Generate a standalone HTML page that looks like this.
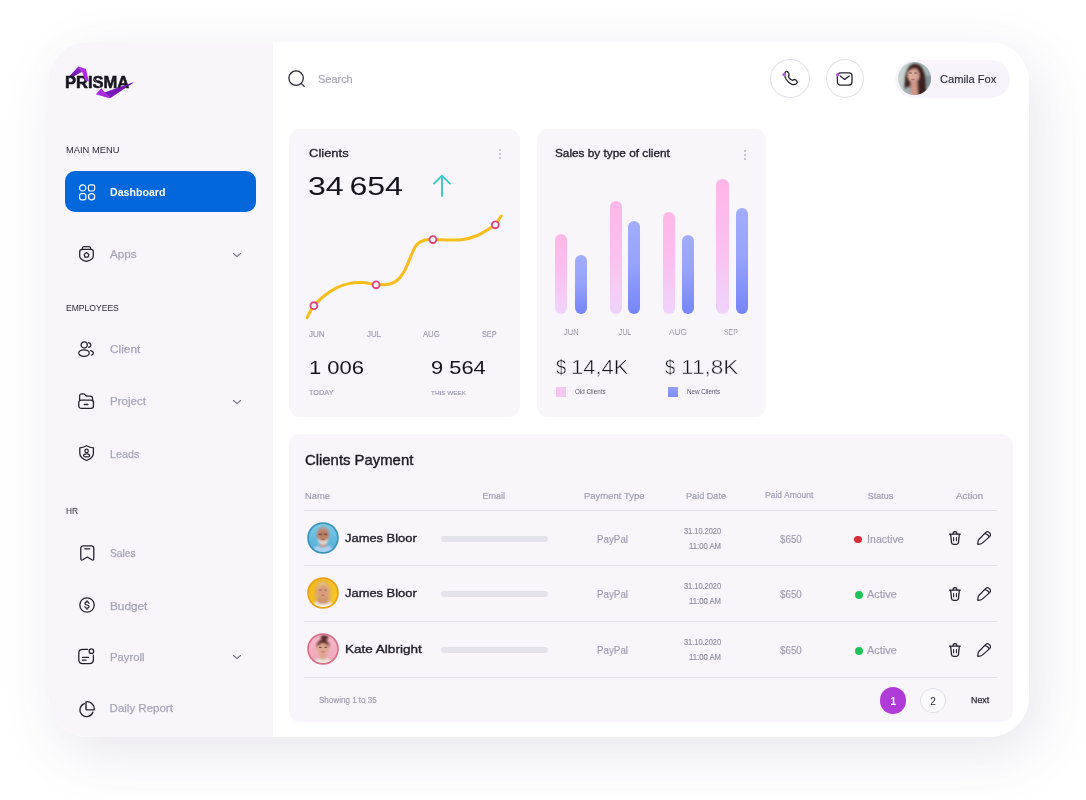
<!DOCTYPE html>
<html lang="en">
<head>
<meta charset="utf-8">
<title>Prisma Dashboard</title>
<style>
html,body{margin:0;padding:0;background:#fff;}
body{width:1086px;height:800px;position:relative;overflow:hidden;font-family:"Liberation Sans",sans-serif;color:#2b2a36;}
.a,.t,.b{position:absolute;}
.t{white-space:nowrap;line-height:1;transform-origin:0 50%;margin:0;padding:0;font-weight:400;}
svg.a{overflow:visible;}
.shadow{position:absolute;left:48px;top:42px;width:980.6px;height:695px;border-radius:40px;background:#fff;
  box-shadow:10px 16px 56px rgba(85,65,125,0.135);}
.shell{position:absolute;left:48px;top:42px;width:980.6px;height:695px;border-radius:40px;background:#fff;overflow:hidden;}
.page{position:absolute;left:-48px;top:-42px;width:1086px;height:800px;}
.side{position:absolute;left:48px;top:42px;width:225.3px;height:695px;background:#f8f6fb;}
.card{position:absolute;background:#f8f6fb;border-radius:11px;}
.ic{fill:none;stroke:#25242e;stroke-width:1.3;stroke-linecap:round;stroke-linejoin:round;}
.logo{-webkit-text-stroke:0.55px #17151f;}
.hr{position:absolute;height:1px;background:#dfdde6;left:304px;width:692.5px;}
ul,li,nav,header,main,section,aside,footer,h1,h2,h3,p{margin:0;padding:0;list-style:none;}
</style>
</head>
<body>
<div class="shadow"></div>
<div class="shell"><div class="page">

<aside class="side"></aside>
<aside>
<svg class="a" style="left:60px;top:60px" width="80" height="44" viewBox="0 0 80 44" >
<defs>
<linearGradient id="lg1" x1="0" y1="1" x2="1" y2="0"><stop offset="0" stop-color="#5f14a0"/><stop offset="1" stop-color="#9a22d6"/></linearGradient>
<linearGradient id="lg2" x1="0" y1="0" x2="1" y2="0"><stop offset="0" stop-color="#8a1fcb"/><stop offset="1" stop-color="#6212a6"/></linearGradient>
</defs>
<polygon points="8.7,16.9 18.4,6.5 22.1,11.8 12.7,17.1" fill="url(#lg1)"/>
<polygon points="36.1,34.25 41.25,28.4 50.1,38.2" fill="#a92be2"/>
<polygon points="44.9,32.4 74.4,22.1 50.1,38.2 41.25,28.4" fill="url(#lg2)"/>
</svg>
<h1 class="t logo" style="left:65.30px;top:75px;font-size:15.6px;color:#17151f;font-weight:700;transform:scaleX(1.0582);">PRISMA</h1>
<svg class="a" style="left:60px;top:60px" width="80" height="44" viewBox="0 0 80 44" ><polygon points="18.4,6.5 26.0,9.0 28.8,21.6 25.2,20.4 22.1,11.8" fill="#b32ae8"/>
<polygon points="36.1,34.25 41.25,28.4 44.9,32.4 50.1,38.2" fill="#a92be2"/>
<polygon points="44.9,32.4 74.4,22.1 66,26.6 47.2,34.4" fill="#7418b8"/>
<line x1="33.6" y1="18.2" x2="40.2" y2="27.6" stroke="#f8f6fb" stroke-width="0.45"/></svg>
<nav>
<h3 class="t" style="left:65.70px;top:145px;font-size:9.5px;color:#2b2a36;transform:scaleX(0.9823);">MAIN MENU</h3>
<div class="a" style="left:65.4px;top:171.4px;width:191.0px;height:41.0px;background:#0367dc;border-radius:10px;"></div>
<svg class="a" style="left:78.6px;top:183.8px" width="16.4" height="16.4" viewBox="0 0 16.4 16.4" ><g fill="none" stroke="#fff" stroke-width="1.2">
<circle cx="3.7" cy="3.9" r="3.1"/><rect x="9.4" y="0.8" width="6.3" height="6.2" rx="2"/>
<rect x="0.6" y="9.6" width="6.3" height="6.2" rx="2"/><circle cx="12.6" cy="12.7" r="3.1"/></g></svg>
<span class="t" style="left:109.80px;top:187px;font-size:11.5px;color:#ffffff;font-weight:700;transform:scaleX(0.9223);">Dashboard</span>
<svg class="a" style="left:79.3px;top:246.2px" width="15" height="16.2" viewBox="0 0 15 16.2" ><g class="ic">
<path d="M3.3,3.4 V2.6 Q3.3,0.7 5.2,0.7 H9.8 Q11.7,0.7 11.7,2.6 V3.4"/>
<path d="M3.0,3.4 H12.0 Q14.3,3.4 14.3,5.7 V10.4 Q14.3,13.2 7.5,15.5 Q0.7,13.2 0.7,10.4 V5.7 Q0.7,3.4 3.0,3.4 Z"/>
<path d="M7.5,6.6 L9.9,8.4 L9.0,11.2 H6.0 L5.1,8.4 Z" stroke-width="1.25"/></g></svg>
<span class="t" style="left:109.60px;top:249px;font-size:11.5px;color:#a7a5b9;-webkit-text-stroke:0.25px #a7a5b9;transform:scaleX(1.0148);">Apps</span>
<svg class="a" style="left:232.6px;top:252.9px" width="8.0" height="4.4" viewBox="0 0 8.0 4.4" ><path d="M0.5,0.5 L4.0,3.7 L7.5,0.5" fill="none" stroke="#747283" stroke-width="1.15" stroke-linecap="round" stroke-linejoin="round"/></svg>
<h3 class="t" style="left:65.50px;top:303px;font-size:9.5px;color:#2b2a36;transform:scaleX(0.9009);">EMPLOYEES</h3>
<svg class="a" style="left:78.2px;top:341.0px" width="16.2" height="16.2" viewBox="0 0 16.2 16.2" ><g class="ic">
<circle cx="6.2" cy="3.9" r="3.1"/><ellipse cx="6.0" cy="12.1" rx="5.3" ry="3.3"/>
<path d="M10.6,1.6 Q12.9,2.2 12.9,4.0 Q12.9,5.8 10.6,6.4"/>
<path d="M12.6,9.6 Q15.4,10.3 15.4,12.1 Q15.4,13.7 13.4,14.2"/></g></svg>
<span class="t" style="left:109.60px;top:344px;font-size:11.5px;color:#a7a5b9;-webkit-text-stroke:0.25px #a7a5b9;transform:scaleX(1.0306);">Client</span>
<svg class="a" style="left:78.1px;top:393.0px" width="16.2" height="16.2" viewBox="0 0 16.2 16.2" ><g class="ic">
<path d="M1.6,7.4 V3.2 Q1.6,0.8 4.0,0.8 H5.2 Q6.4,0.8 7.2,1.8 L7.8,2.5 Q8.4,3.2 9.4,3.2 H12.2 Q14.6,3.2 14.6,5.6 V7.4"/>
<rect x="0.7" y="7.2" width="14.8" height="8.2" rx="2.6"/>
<path d="M6.4,11.6 H9.8" stroke-width="1.5"/></g></svg>
<span class="t" style="left:109.60px;top:396px;font-size:11.5px;color:#a7a5b9;-webkit-text-stroke:0.25px #a7a5b9;transform:scaleX(1.0058);">Project</span>
<svg class="a" style="left:232.6px;top:400.0px" width="8.0" height="4.4" viewBox="0 0 8.0 4.4" ><path d="M0.5,0.5 L4.0,3.7 L7.5,0.5" fill="none" stroke="#747283" stroke-width="1.15" stroke-linecap="round" stroke-linejoin="round"/></svg>
<svg class="a" style="left:79.0px;top:445.3px" width="15.2" height="16.2" viewBox="0 0 15.2 16.2" ><g class="ic">
<path d="M7.6,0.7 Q11,2.6 14.4,2.9 V8.2 Q14.4,12.6 7.6,15.5 Q0.8,12.6 0.8,8.2 V2.9 Q4.2,2.6 7.6,0.7 Z"/>
<circle cx="7.6" cy="5.9" r="1.7" stroke-width="1.2"/><ellipse cx="7.6" cy="10.4" rx="3.0" ry="1.5" stroke-width="1.2"/></g></svg>
<span class="t" style="left:109.60px;top:449px;font-size:11.5px;color:#a7a5b9;-webkit-text-stroke:0.25px #a7a5b9;transform:scaleX(0.9383);">Leads</span>
<h3 class="t" style="left:65.50px;top:506px;font-size:9.5px;color:#2b2a36;transform:scaleX(0.8746);">HR</h3>
<svg class="a" style="left:80.0px;top:545.2px" width="14.6" height="16.0" viewBox="0 0 14.6 16.0" ><g class="ic">
<path d="M0.8,13.6 V3.4 Q0.8,0.8 3.4,0.8 H11.2 Q13.8,0.8 13.8,3.4 V13.6 Q13.8,15.9 11.8,14.8 L7.3,12.0 L2.8,14.8 Q0.8,15.9 0.8,13.6 Z"/>
<path d="M4.8,3.8 H9.8" stroke-width="1.2"/></g></svg>
<span class="t" style="left:109.60px;top:548px;font-size:11.5px;color:#a7a5b9;-webkit-text-stroke:0.25px #a7a5b9;transform:scaleX(0.8934);">Sales</span>
<svg class="a" style="left:79.2px;top:597.2px" width="16" height="16" viewBox="0 0 16 16" ><g class="ic"><circle cx="8" cy="8" r="7.2"/>
<path d="M10.0,6.3 Q9.9,4.9 8,4.9 Q6.0,4.9 6.0,6.4 Q6.0,7.6 8,8.0 Q10.1,8.4 10.1,9.7 Q10.1,11.1 8,11.1 Q6.0,11.1 5.9,9.7" stroke-width="1.2"/>
<path d="M8,3.5 V4.8 M8,11.2 V12.5" stroke-width="1.1"/></g></svg>
<span class="t" style="left:109.60px;top:601px;font-size:11.5px;color:#a7a5b9;-webkit-text-stroke:0.25px #a7a5b9;transform:scaleX(1.0234);">Budget</span>
<svg class="a" style="left:77.8px;top:648.0px" width="16.6" height="16.6" viewBox="0 0 16.6 16.6" ><g class="ic">
<path d="M9.6,1.4 H4.6 Q0.8,1.4 0.8,5.2 V11.8 Q0.8,15.6 4.6,15.6 H11.6 Q15.4,15.6 15.4,11.8 V7.2"/>
<circle cx="13.4" cy="3.2" r="2.3" stroke-width="1.25"/>
<path d="M4.6,9.4 H10.4 M4.6,12.2 H8.0" stroke-width="1.3"/></g></svg>
<span class="t" style="left:109.60px;top:652px;font-size:11.5px;color:#a7a5b9;-webkit-text-stroke:0.25px #a7a5b9;transform:scaleX(0.9786);">Payroll</span>
<svg class="a" style="left:232.6px;top:654.9px" width="8.0" height="4.4" viewBox="0 0 8.0 4.4" ><path d="M0.5,0.5 L4.0,3.7 L7.5,0.5" fill="none" stroke="#747283" stroke-width="1.15" stroke-linecap="round" stroke-linejoin="round"/></svg>
<svg class="a" style="left:79.0px;top:700.6px" width="16" height="16" viewBox="0 0 16 16" ><g class="ic">
<path d="M5.4,2.6 A6.7,6.7 0 1 0 14.0,11.0"/>
<path d="M7.0,1.0 Q7.0,0.6 7.6,0.6 A7.4,7.4 0 0 1 15.3,8.2 Q15.3,8.9 14.7,8.9 H7.7 Q7.0,8.9 7.0,8.2 Z" stroke-width="1.4"/></g></svg>
<span class="t" style="left:109.60px;top:703px;font-size:11.5px;color:#a7a5b9;-webkit-text-stroke:0.25px #a7a5b9;">Daily Report</span>
</nav></aside>
<header>
<svg class="a" style="left:288.2px;top:70.3px" width="18" height="18" viewBox="0 0 18 18" ><g class="ic" stroke-width="1.3"><circle cx="8.1" cy="8.1" r="7.2"/><path d="M13.6,13.9 L16.2,16.4"/></g></svg>
<span class="t" style="left:317.80px;top:74px;font-size:10.5px;color:#a7a5b9;-webkit-text-stroke:0.2px #a7a5b9;transform:scaleX(1.0430);">Search</span>
<div class="a" style="left:770.3px;top:59.3px;width:37.8px;height:37.2px;border:1px solid #e3e2e9;border-radius:50%;background:#fff;"></div>
<svg class="a" style="left:781.8px;top:69.6px" width="17" height="17" viewBox="0 0 17 17" ><g class="ic" stroke-width="1.3"><path d="M3.2,2.4 Q4.6,0.6 6.0,2.2 L6.9,3.6 Q7.6,4.9 6.6,6.0 Q6.2,6.6 6.9,7.6 Q8.2,9.4 9.6,10.0 Q10.6,10.5 11.3,9.9 Q12.6,9.0 13.8,10.0 L14.8,10.9 Q16.0,12.3 14.4,13.8 Q12.6,15.2 10.0,14.4 Q6.4,13.0 4.0,9.0 Q2.0,5.2 3.2,2.4 Z"/></g>
<circle cx="2.0" cy="4.6" r="1.7" fill="#b45ce0"/></svg>
<div class="a" style="left:825.5px;top:59.3px;width:36.8px;height:37.2px;border:1px solid #e3e2e9;border-radius:50%;background:#fff;"></div>
<svg class="a" style="left:836.2px;top:71.6px" width="17" height="14" viewBox="0 0 17 14" ><g class="ic" stroke-width="1.3"><rect x="1.4" y="0.9" width="14.6" height="12.2" rx="3"/><path d="M4.2,4.0 L8.7,7.4 L13.2,4.0"/></g>
<circle cx="1.7" cy="2.7" r="1.7" fill="#b45ce0"/></svg>
<div class="a" style="left:895px;top:60px;width:114.6px;height:38px;background:#f7f5fb;border-radius:19px;"></div>
<svg class="a" style="left:897.6px;top:62.4px" width="33" height="33" viewBox="0 0 33 33" ><defs><clipPath id="cpA"><circle cx="16.5" cy="16.5" r="16.5"/></clipPath>
<filter id="blA" x="-30%" y="-30%" width="160%" height="160%"><feGaussianBlur stdDeviation="0.8"/></filter>
<linearGradient id="gA" x1="0" y1="0" x2="1" y2="0"><stop offset="0" stop-color="#c9d5d2"/><stop offset="0.6" stop-color="#b4c3c2"/><stop offset="1" stop-color="#a3b1b3"/></linearGradient></defs>
<g clip-path="url(#cpA)"><rect width="33" height="33" fill="url(#gA)"/>
<g filter="url(#blA)">
<rect x="26" y="13.5" width="8" height="11" fill="#86939a"/>
<path d="M6.6,30 Q5.6,12 11,4.4 Q16,-1.2 22.4,3.6 Q27.6,9.6 28,21 Q29.4,30 25,34 L8,34 Z" fill="#3f2522"/>
<ellipse cx="15.6" cy="12.4" rx="6.0" ry="8.4" fill="#d7a192"/>
<ellipse cx="13.6" cy="13.4" rx="3.4" ry="5.0" fill="#e2b0a2"/>
<path d="M12.6,19.6 H19.4 L20,34 H12.2 Z" fill="#cf9686"/>
<path d="M3,34 Q4.4,26.6 12.2,24.6 L13.2,34 Z" fill="#a5b1b6"/>
<path d="M9.4,11.4 Q10,3.6 16.4,3.4 Q22.6,4.4 22.8,12.6 Q20.4,6.6 16.4,6.4 Q12,6.8 9.4,11.4 Z" fill="#3f2522"/>
<path d="M19.8,8 Q24.4,16 22.4,34 H28 Q29,14 22.4,4.4 Z" fill="#3a211e"/>
</g>
<g opacity="0.75"><ellipse cx="15.0" cy="17.6" rx="1.9" ry="0.8" fill="#a8505a"/>
<rect x="11.2" y="10.4" width="2.8" height="1.2" rx="0.6" fill="#3e2622"/><rect x="16.2" y="10.4" width="2.8" height="1.2" rx="0.6" fill="#3e2622"/>
<path d="M14.8,12 L14.4,15.2" stroke="#b98474" stroke-width="0.6" fill="none"/></g></g>
</svg>
<span class="t" style="left:940.20px;top:74px;font-size:11.5px;color:#2b2a36;-webkit-text-stroke:0.15px #2b2a36;transform:scaleX(0.9682);">Camila Fox</span>
</header>
<main>
<section>
<div class="card" style="left:289px;top:129px;width:231px;height:288.4px;"></div>
<h2 class="t" style="left:308.60px;top:148px;font-size:11.5px;color:#1f1e28;-webkit-text-stroke:0.32px #1f1e28;transform:scaleX(1.1294);">Clients</h2>
<svg class="a" style="left:499.4px;top:148.6px" width="2" height="10" viewBox="0 0 2 10" ><g fill="#b4b2c2"><circle cx="1" cy="1" r="0.95"/><circle cx="1" cy="5" r="0.95"/><circle cx="1" cy="9" r="0.95"/></g></svg>
<span class="t" style="left:308.20px;top:173px;font-size:26.2px;color:#16151d;word-spacing:-2.6px;transform:scaleX(1.2252);">34 654</span>
<svg class="a" style="left:432.0px;top:174.3px" width="20" height="23" viewBox="0 0 20 23" ><path d="M10,22 V1.8 M2.0,9.6 L10,1.6 L18.0,9.6" fill="none" stroke="#3cc8c5" stroke-width="1.9" stroke-linecap="round" stroke-linejoin="round"/></svg>
<svg class="a" style="left:300px;top:205px" width="210" height="120" viewBox="0 0 210 120" ><path d="M7.2,112.6 C8.3,110.6 10.8,104.6 13.8,100.8 C16.8,97.0 21.8,92.9 25.4,90.0 C29.0,87.1 31.8,85.2 35.5,83.3 C39.2,81.5 43.3,79.8 47.7,78.9 C52.1,77.9 57.2,77.5 61.9,77.6 C66.6,77.7 72.0,79.1 76.0,79.4 C80.0,79.7 82.8,80.2 86.2,79.6 C89.6,79.0 93.3,78.3 96.3,76.0 C99.3,73.7 101.9,70.3 104.4,65.9 C106.9,61.5 109.5,54.0 111.5,49.7 C113.5,45.3 114.4,42.3 116.6,39.8 C118.8,37.4 122.0,35.9 124.7,35.0 C127.4,34.1 128.8,34.5 132.8,34.5 C136.9,34.5 143.9,35.0 149.0,35.0 C154.1,35.0 158.5,35.2 163.2,34.5 C167.9,33.8 172.9,32.3 177.3,30.5 C181.7,28.7 186.5,25.4 189.5,23.6 C192.5,21.8 193.2,21.7 195.2,19.6 C197.1,17.5 200.2,12.4 201.2,11.0" fill="none" stroke="#f6bd1c" stroke-width="3" stroke-linecap="round" stroke-linejoin="round"/>
<g fill="#fdfafd" stroke="#e0457e" stroke-width="1.9"><circle cx="13.9" cy="100.7" r="3.45"/><circle cx="76.1" cy="79.8" r="3.45"/><circle cx="132.9" cy="34.6" r="3.45"/><circle cx="195.3" cy="19.8" r="3.45"/></g></svg>
<span class="t" style="left:308.80px;top:330px;font-size:8.5px;color:#a3a1b4;-webkit-text-stroke:0.2px #a3a1b4;transform:scaleX(0.9500);">JUN</span>
<span class="t" style="left:366.50px;top:330px;font-size:8.5px;color:#a3a1b4;-webkit-text-stroke:0.2px #a3a1b4;transform:scaleX(0.9262);">JUL</span>
<span class="t" style="left:423.00px;top:330px;font-size:8.5px;color:#a3a1b4;-webkit-text-stroke:0.2px #a3a1b4;transform:scaleX(0.9012);">AUG</span>
<span class="t" style="left:482.40px;top:330px;font-size:8.5px;color:#a3a1b4;-webkit-text-stroke:0.2px #a3a1b4;transform:scaleX(0.8584);">SEP</span>
<span class="t" style="left:309.00px;top:359px;font-size:18.8px;color:#16151d;transform:scaleX(1.1691);">1 006</span>
<span class="t" style="left:431.00px;top:359px;font-size:18.8px;color:#16151d;transform:scaleX(1.1648);">9 564</span>
<span class="t" style="left:308.60px;top:389px;font-size:7px;color:#a3a1b4;-webkit-text-stroke:0.2px #a3a1b4;transform:scaleX(1.0482);">TODAY</span>
<span class="t" style="left:431.00px;top:390px;font-size:6px;color:#a3a1b4;-webkit-text-stroke:0.2px #a3a1b4;transform:scaleX(1.0605);">THIS WEEK</span>
</section>
<section>
<div class="card" style="left:537.2px;top:129px;width:229px;height:288.2px;"></div>
<h2 class="t" style="left:555.40px;top:148px;font-size:11.5px;color:#1f1e28;-webkit-text-stroke:0.35px #1f1e28;transform:scaleX(1.0262);">Sales by type of client</h2>
<svg class="a" style="left:744.3px;top:149.5px" width="2" height="10" viewBox="0 0 2 10" ><g fill="#b4b2c2"><circle cx="1" cy="1" r="0.95"/><circle cx="1" cy="5" r="0.95"/><circle cx="1" cy="9" r="0.95"/></g></svg>
<div class="a" style="left:555.3px;top:233.8px;width:12.1px;height:80.5px;background:linear-gradient(180deg,#feb7e6 0%,#fbbeee 45%,#f4cdf7 80%,#efd3fb 100%);border-radius:6.1px;"></div>
<div class="a" style="left:575.2px;top:255.0px;width:12.1px;height:59.3px;background:linear-gradient(180deg,#a2adfd 0%,#97a3fc 45%,#7685f9 100%);border-radius:6.1px;"></div>
<div class="a" style="left:609.5px;top:201.2px;width:12.1px;height:113.1px;background:linear-gradient(180deg,#feb7e6 0%,#fbbeee 45%,#f4cdf7 80%,#efd3fb 100%);border-radius:6.1px;"></div>
<div class="a" style="left:628.0px;top:220.8px;width:12.1px;height:93.5px;background:linear-gradient(180deg,#a2adfd 0%,#97a3fc 45%,#7685f9 100%);border-radius:6.1px;"></div>
<div class="a" style="left:662.8px;top:212.0px;width:12.1px;height:102.3px;background:linear-gradient(180deg,#feb7e6 0%,#fbbeee 45%,#f4cdf7 80%,#efd3fb 100%);border-radius:6.1px;"></div>
<div class="a" style="left:681.8000000000001px;top:235.0px;width:12.1px;height:79.3px;background:linear-gradient(180deg,#a2adfd 0%,#97a3fc 45%,#7685f9 100%);border-radius:6.1px;"></div>
<div class="a" style="left:716.0px;top:178.8px;width:12.6px;height:135.5px;background:linear-gradient(180deg,#feb7e6 0%,#fbbeee 45%,#f4cdf7 80%,#efd3fb 100%);border-radius:6.1px;"></div>
<div class="a" style="left:736.1px;top:208.3px;width:12.1px;height:106.0px;background:linear-gradient(180deg,#a2adfd 0%,#97a3fc 45%,#7685f9 100%);border-radius:6.1px;"></div>
<span class="t" style="left:564.20px;top:327px;font-size:9.5px;color:#7c7a89;-webkit-text-stroke:0.15px #f8f6fb;transform:scaleX(0.7904);">JUN</span>
<span class="t" style="left:619.20px;top:327px;font-size:9.5px;color:#7c7a89;-webkit-text-stroke:0.15px #f8f6fb;transform:scaleX(0.7162);">JUL</span>
<span class="t" style="left:669.20px;top:327px;font-size:9.5px;color:#7c7a89;-webkit-text-stroke:0.15px #f8f6fb;transform:scaleX(0.8646);">AUG</span>
<span class="t" style="left:723.80px;top:327px;font-size:9.5px;color:#7c7a89;-webkit-text-stroke:0.15px #f8f6fb;transform:scaleX(0.7260);">SEP</span>
<p>
<span class="t" style="left:555.60px;top:357px;font-size:20.5px;color:#16151d;-webkit-text-stroke:0.45px #f8f6fb;transform:scaleX(0.8946);">$</span>
<span class="t" style="left:570.80px;top:357px;font-size:20.5px;color:#16151d;-webkit-text-stroke:0.45px #f8f6fb;transform:scaleX(1.0714);">14,4K</span>
</p>
<p>
<span class="t" style="left:664.80px;top:357px;font-size:20.5px;color:#16151d;-webkit-text-stroke:0.45px #f8f6fb;transform:scaleX(0.8946);">$</span>
<span class="t" style="left:680.80px;top:357px;font-size:20.5px;color:#16151d;-webkit-text-stroke:0.45px #f8f6fb;transform:scaleX(1.1028);">11,8K</span>
</p>
<div class="a" style="left:555.8px;top:387px;width:10.2px;height:10.2px;background:#f4c6f1;"></div>
<span class="t" style="left:574.50px;top:389px;font-size:6.5px;color:#5a5868;transform:scaleX(0.9594);">Old Clients</span>
<div class="a" style="left:667.6px;top:387px;width:10.8px;height:10.2px;background:linear-gradient(180deg,#94a0fa,#7e8cf8);"></div>
<span class="t" style="left:686.80px;top:389px;font-size:6.5px;color:#5a5868;transform:scaleX(0.9574);">New Clients</span>
</section>
<section>
<div class="card" style="left:289.2px;top:433.6px;width:723.5px;height:288.6px;"></div>
<h2 class="t" style="left:305.00px;top:452px;font-size:15px;color:#1d1c26;-webkit-text-stroke:0.4px #1d1c26;transform:scaleX(0.9916);">Clients Payment</h2>
<span class="t" style="left:304.50px;top:492px;font-size:9px;color:#a3a1b4;-webkit-text-stroke:0.2px #a3a1b4;transform:scaleX(1.0413);">Name</span>
<span class="t" style="left:482.50px;top:492px;font-size:9px;color:#a3a1b4;-webkit-text-stroke:0.2px #a3a1b4;">Email</span>
<span class="t" style="left:583.80px;top:492px;font-size:9px;color:#a3a1b4;-webkit-text-stroke:0.2px #a3a1b4;transform:scaleX(1.0546);">Payment Type</span>
<span class="t" style="left:685.80px;top:492px;font-size:9px;color:#a3a1b4;-webkit-text-stroke:0.2px #a3a1b4;transform:scaleX(1.0120);">Paid Date</span>
<span class="t" style="left:764.50px;top:491px;font-size:8.5px;color:#a3a1b4;-webkit-text-stroke:0.2px #a3a1b4;transform:scaleX(1.0062);">Paid Amount</span>
<span class="t" style="left:867.80px;top:492px;font-size:9px;color:#a3a1b4;-webkit-text-stroke:0.2px #a3a1b4;">Status</span>
<span class="t" style="left:955.80px;top:492px;font-size:9px;color:#a3a1b4;-webkit-text-stroke:0.2px #a3a1b4;transform:scaleX(1.0874);">Action</span>
<div class="hr" style="top:510px"></div>
<article>
<svg class="a" style="left:306.79999999999995px;top:521.9px" width="32" height="32" viewBox="0 0 32 32" ><defs><clipPath id="cpman"><circle cx="16" cy="16" r="14.1"/></clipPath>
<linearGradient id="gman" x1="0" y1="0" x2="0" y2="1"><stop offset="0" stop-color="#7fcdea"/><stop offset="1" stop-color="#4aa9d2"/></linearGradient>
<filter id="blman" x="-20%" y="-20%" width="140%" height="140%"><feGaussianBlur stdDeviation="0.8"/></filter></defs>
<circle cx="16" cy="16" r="15.8" fill="#3b93b9"/>
<g clip-path="url(#cpman)"><rect width="32" height="32" fill="url(#gman)"/>
<g filter="url(#blman)">
<path d="M4,32 Q5,24.5 12,23.6 H20 Q27,24.5 28,32 Z" fill="#a9d0ee"/>
<rect x="12.6" y="19" width="6.8" height="6" fill="#c08a72"/>
<ellipse cx="16" cy="13.2" rx="6.2" ry="7.8" fill="#bd8166"/>
<path d="M10,11 Q10,4.4 16,4.2 Q22,4.4 22,11 Q20.6,7.4 16,7.2 Q11.4,7.4 10,11 Z" fill="#a7a19c"/>
<path d="M10.6,15.6 Q11,22.6 16,23 Q21,22.6 21.4,15.6 Q20,19 16,19 Q12,19 10.6,15.6 Z" fill="#e4ded9"/>
</g>
<g opacity="0.7"><rect x="11.6" y="11.4" width="3.6" height="1.8" rx="0.7" fill="#6a4638"/><rect x="16.8" y="11.4" width="3.6" height="1.8" rx="0.7" fill="#6a4638"/>
<path d="M15.2,12.2 H16.8" stroke="#6a4638" stroke-width="0.5"/>
<ellipse cx="16" cy="17.4" rx="1.8" ry="0.6" fill="#9a5a4e"/></g></g></svg>
<span class="t" style="left:345.00px;top:533px;font-size:11.2px;color:#1f1e28;-webkit-text-stroke:0.35px #1f1e28;transform:scaleX(1.1535);">James Bloor</span>
<div class="a" style="left:440.6px;top:535.5px;width:107.2px;height:6px;background:#e4e2ea;border-radius:3px;"></div>
<span class="t" style="left:596.50px;top:534px;font-size:11px;color:#9f9db0;-webkit-text-stroke:0.2px #9f9db0;transform:scaleX(0.8894);">PayPal</span>
<span class="t" style="left:684.30px;top:527px;font-size:8.5px;color:#8d8b9d;-webkit-text-stroke:0.15px #8d8b9d;transform:scaleX(0.8697);">31.10.2020</span>
<span class="t" style="left:689.30px;top:542px;font-size:8.5px;color:#8d8b9d;-webkit-text-stroke:0.15px #8d8b9d;transform:scaleX(0.9070);">11:00 AM</span>
<span class="t" style="left:779.50px;top:534px;font-size:10.5px;color:#9f9db0;-webkit-text-stroke:0.15px #9f9db0;transform:scaleX(0.9333);">$650</span>
<div class="a" style="left:854.4px;top:535.5px;width:7.9px;height:7.0px;background:#d92b3a;border-radius:3.6px;"></div>
<span class="t" style="left:867.20px;top:534px;font-size:10.6px;color:#9f9db0;-webkit-text-stroke:0.15px #9f9db0;transform:scaleX(1.0046);">Inactive</span>
<svg class="a" style="left:949.2px;top:531.2px" width="12" height="14" viewBox="0 0 12 14" ><g class="ic" stroke-width="1.25"><path d="M0.7,3.2 H11.3"/><path d="M4.0,3.0 Q4.0,0.7 6,0.7 Q8.0,0.7 8.0,3.0"/>
<path d="M1.7,3.4 L2.5,11.4 Q2.7,13.3 4.6,13.3 H7.4 Q9.3,13.3 9.5,11.4 L10.3,3.4"/><path d="M4.6,6.6 V9.8 M7.4,6.6 V9.8" stroke-width="1.1"/></g></svg>
<svg class="a" style="left:976.9px;top:531.2px" width="14.4" height="13.9" viewBox="0 0 15 14.4" ><g class="ic" stroke-width="1.3"><path d="M9.0,1.6 Q10.4,0.2 12.0,1.0 Q13.4,1.8 14.0,3.2 Q14.4,4.6 13.2,5.8 L5.6,12.6 Q4.8,13.2 3.8,13.4 L1.2,13.8 Q0.6,13.8 0.7,13.2 L1.2,10.4 Q1.4,9.4 2.2,8.6 Z"/><path d="M8.4,2.6 Q11.0,2.8 12.6,5.6"/></g></svg>
<div class="hr" style="top:565px"></div>
</article>
<article>
<svg class="a" style="left:306.79999999999995px;top:577.2px" width="32" height="32" viewBox="0 0 32 32" ><defs><clipPath id="cpblonde"><circle cx="16" cy="16" r="14.1"/></clipPath>
<linearGradient id="gblonde" x1="0" y1="0" x2="1" y2="1"><stop offset="0" stop-color="#f2b21a"/><stop offset="1" stop-color="#f8cc2a"/></linearGradient>
<filter id="blblonde" x="-20%" y="-20%" width="140%" height="140%"><feGaussianBlur stdDeviation="0.8"/></filter></defs>
<circle cx="16" cy="16" r="15.8" fill="#e8a21c"/>
<g clip-path="url(#cpblonde)"><rect width="32" height="32" fill="url(#gblonde)"/>
<g filter="url(#blblonde)">
<path d="M8.2,27 Q7.0,12 10.8,6.0 Q16,1.6 21.2,6.0 Q25,12 23.8,27 Z" fill="#dcae66"/>
<path d="M4,32 Q5,25.4 12,24.6 H20 Q27,25.4 28,32 Z" fill="#f4efe8"/>
<path d="M11.6,20 H20.4 L21.6,26 Q16,28.6 10.4,26 Z" fill="#cf9472"/>
<ellipse cx="16" cy="14" rx="5.6" ry="7.4" fill="#d89c7c"/>
<path d="M10.4,13 Q10.6,6 16,5.6 Q21.4,6 21.6,13 Q19.6,8.2 16,8.2 Q12.4,8.2 10.4,13 Z" fill="#e8c07e"/>
</g>
<g opacity="0.7"><rect x="12.2" y="12.4" width="2.6" height="1.1" rx="0.5" fill="#7a4a34"/><rect x="17.2" y="12.4" width="2.6" height="1.1" rx="0.5" fill="#7a4a34"/>
<ellipse cx="16" cy="18.2" rx="1.7" ry="0.7" fill="#b2604f"/></g></g></svg>
<span class="t" style="left:345.00px;top:588px;font-size:11.2px;color:#1f1e28;-webkit-text-stroke:0.35px #1f1e28;transform:scaleX(1.1535);">James Bloor</span>
<div class="a" style="left:440.6px;top:590.8px;width:107.2px;height:6px;background:#e4e2ea;border-radius:3px;"></div>
<span class="t" style="left:596.50px;top:589px;font-size:11px;color:#9f9db0;-webkit-text-stroke:0.2px #9f9db0;transform:scaleX(0.8894);">PayPal</span>
<span class="t" style="left:684.30px;top:582px;font-size:8.5px;color:#8d8b9d;-webkit-text-stroke:0.15px #8d8b9d;transform:scaleX(0.8697);">31.10.2020</span>
<span class="t" style="left:689.30px;top:597px;font-size:8.5px;color:#8d8b9d;-webkit-text-stroke:0.15px #8d8b9d;transform:scaleX(0.9070);">11:00 AM</span>
<span class="t" style="left:779.50px;top:589px;font-size:10.5px;color:#9f9db0;-webkit-text-stroke:0.15px #9f9db0;transform:scaleX(0.9333);">$650</span>
<div class="a" style="left:854.5px;top:590.6px;width:8px;height:8px;background:#21c25a;border-radius:50%;"></div>
<span class="t" style="left:867.20px;top:589px;font-size:10.6px;color:#9f9db0;-webkit-text-stroke:0.15px #9f9db0;transform:scaleX(1.0358);">Active</span>
<svg class="a" style="left:949.2px;top:586.8px" width="12" height="14" viewBox="0 0 12 14" ><g class="ic" stroke-width="1.25"><path d="M0.7,3.2 H11.3"/><path d="M4.0,3.0 Q4.0,0.7 6,0.7 Q8.0,0.7 8.0,3.0"/>
<path d="M1.7,3.4 L2.5,11.4 Q2.7,13.3 4.6,13.3 H7.4 Q9.3,13.3 9.5,11.4 L10.3,3.4"/><path d="M4.6,6.6 V9.8 M7.4,6.6 V9.8" stroke-width="1.1"/></g></svg>
<svg class="a" style="left:976.9px;top:586.8px" width="14.4" height="13.9" viewBox="0 0 15 14.4" ><g class="ic" stroke-width="1.3"><path d="M9.0,1.6 Q10.4,0.2 12.0,1.0 Q13.4,1.8 14.0,3.2 Q14.4,4.6 13.2,5.8 L5.6,12.6 Q4.8,13.2 3.8,13.4 L1.2,13.8 Q0.6,13.8 0.7,13.2 L1.2,10.4 Q1.4,9.4 2.2,8.6 Z"/><path d="M8.4,2.6 Q11.0,2.8 12.6,5.6"/></g></svg>
<div class="hr" style="top:621px"></div>
</article>
<article>
<svg class="a" style="left:306.79999999999995px;top:633.3px" width="32" height="32" viewBox="0 0 32 32" ><defs><clipPath id="cpgirl"><circle cx="16" cy="16" r="14.1"/></clipPath>
<linearGradient id="ggirl" x1="0" y1="0" x2="0" y2="1"><stop offset="0" stop-color="#f6bccb"/><stop offset="1" stop-color="#f0a3b6"/></linearGradient>
<filter id="blgirl" x="-20%" y="-20%" width="140%" height="140%"><feGaussianBlur stdDeviation="0.8"/></filter></defs>
<circle cx="16" cy="16" r="15.8" fill="#d96f8b"/>
<g clip-path="url(#cpgirl)"><rect width="32" height="32" fill="url(#ggirl)"/>
<g filter="url(#blgirl)">
<ellipse cx="17.4" cy="4.6" rx="3.8" ry="2.6" fill="#5a2a26"/>
<path d="M5,32 Q6,26.4 12.6,25.6 H19.4 Q26,26.4 27,32 Z" fill="#efe6df"/>
<rect x="12.8" y="21" width="6.4" height="5.4" fill="#dba58c"/>
<ellipse cx="16" cy="15" rx="6.1" ry="7.7" fill="#e0a890"/>
<path d="M9.6,15 Q9,7.4 16,6.6 Q23,7.4 22.4,15 Q21,10.6 16,10.2 Q11,10.6 9.6,15 Z" fill="#5a2a26"/>
</g>
<g opacity="0.75"><rect x="12" y="13.8" width="2.6" height="1.1" rx="0.5" fill="#5a2e26"/><rect x="17.4" y="13.8" width="2.6" height="1.1" rx="0.5" fill="#5a2e26"/>
<path d="M13.4,18.4 Q16,20.8 18.6,18.4 Z" fill="#c2525e"/></g></g></svg>
<span class="t" style="left:345.00px;top:644px;font-size:11.2px;color:#1f1e28;-webkit-text-stroke:0.35px #1f1e28;transform:scaleX(1.2093);">Kate Albright</span>
<div class="a" style="left:440.6px;top:646.9px;width:107.2px;height:6px;background:#e4e2ea;border-radius:3px;"></div>
<span class="t" style="left:596.50px;top:645px;font-size:11px;color:#9f9db0;-webkit-text-stroke:0.2px #9f9db0;transform:scaleX(0.8894);">PayPal</span>
<span class="t" style="left:684.30px;top:638px;font-size:8.5px;color:#8d8b9d;-webkit-text-stroke:0.15px #8d8b9d;transform:scaleX(0.8697);">31.10.2020</span>
<span class="t" style="left:689.30px;top:653px;font-size:8.5px;color:#8d8b9d;-webkit-text-stroke:0.15px #8d8b9d;transform:scaleX(0.9070);">11:00 AM</span>
<span class="t" style="left:779.50px;top:645px;font-size:10.5px;color:#9f9db0;-webkit-text-stroke:0.15px #9f9db0;transform:scaleX(0.9333);">$650</span>
<div class="a" style="left:854.5px;top:646.7px;width:8px;height:8px;background:#21c25a;border-radius:50%;"></div>
<span class="t" style="left:867.20px;top:645px;font-size:10.6px;color:#9f9db0;-webkit-text-stroke:0.15px #9f9db0;transform:scaleX(1.0358);">Active</span>
<svg class="a" style="left:949.2px;top:642.7px" width="12" height="14" viewBox="0 0 12 14" ><g class="ic" stroke-width="1.25"><path d="M0.7,3.2 H11.3"/><path d="M4.0,3.0 Q4.0,0.7 6,0.7 Q8.0,0.7 8.0,3.0"/>
<path d="M1.7,3.4 L2.5,11.4 Q2.7,13.3 4.6,13.3 H7.4 Q9.3,13.3 9.5,11.4 L10.3,3.4"/><path d="M4.6,6.6 V9.8 M7.4,6.6 V9.8" stroke-width="1.1"/></g></svg>
<svg class="a" style="left:976.9px;top:642.7px" width="14.4" height="13.9" viewBox="0 0 15 14.4" ><g class="ic" stroke-width="1.3"><path d="M9.0,1.6 Q10.4,0.2 12.0,1.0 Q13.4,1.8 14.0,3.2 Q14.4,4.6 13.2,5.8 L5.6,12.6 Q4.8,13.2 3.8,13.4 L1.2,13.8 Q0.6,13.8 0.7,13.2 L1.2,10.4 Q1.4,9.4 2.2,8.6 Z"/><path d="M8.4,2.6 Q11.0,2.8 12.6,5.6"/></g></svg>
<div class="hr" style="top:677px"></div>
</article>
<footer>
<span class="t" style="left:318.60px;top:696px;font-size:8.8px;color:#9c9aad;-webkit-text-stroke:0.15px #9c9aad;transform:scaleX(0.9158);">Showing 1 to 35</span>
<div class="a" style="left:880.0px;top:687.3px;width:26.4px;height:26.4px;background:#b13bd8;border-radius:50%;"></div>
<span class="t" style="left:890.52px;top:697px;font-size:10px;color:#ffffff;font-weight:700;">1</span>
<div class="a" style="left:920.1px;top:687.8px;width:23.8px;height:23.0px;border:1px solid #e2e0e8;border-radius:50%;background:#faf9fc;"></div>
<span class="t" style="left:930.32px;top:697px;font-size:10px;color:#2b2a36;">2</span>
<span class="t" style="left:970.60px;top:695px;font-size:9.5px;color:#1f1e28;-webkit-text-stroke:0.25px #1f1e28;transform:scaleX(0.9317);">Next</span>
</footer>
</section>
</main>
</div></div>
</body>
</html>
